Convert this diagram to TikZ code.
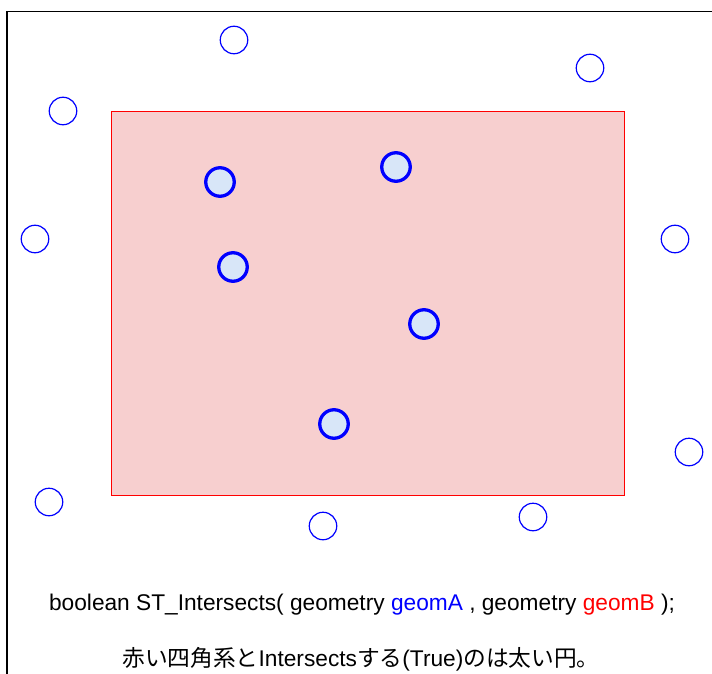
\documentclass[tikz,border=0pt]{standalone}
\usepackage{fontspec}
\setmainfont{Liberation Sans}
\newfontfamily\jpfont{Noto Sans CJK JP}
\usetikzlibrary{positioning}
\definecolor{geomblue}{RGB}{0,0,255}
\definecolor{geomred}{RGB}{255,0,0}
\definecolor{rectfill}{RGB}{247,207,207}
\definecolor{hitfill}{RGB}{216,230,248}

\begin{document}
\begin{tikzpicture}[
      x=1pt, y=-1pt,
      every node/.style={
        circle,
        draw=geomblue,
        line width=1.2pt,
        minimum size=27.5pt,
        inner sep=0pt
      },
      hit/.style={
        circle,
        draw=geomblue,
        fill=hitfill,
        line width=3.3pt,
        minimum size=28.5pt,
        inner sep=0pt
      },
      txt/.style={
        draw=none,
        rectangle,
        inner sep=0pt,
        font=\fontsize{22.7}{26}\selectfont
      }
    ]
      \useasboundingbox (0,0) rectangle (712,674);
      \draw[line width=1.5pt] (7,674) -- (7,11.5) -- (712,11.5);

      \node[
        rectangle,
        draw=geomred,
        fill=rectfill,
        line width=0.9pt,
        minimum width=513pt,
        minimum height=384pt
      ] (geomB) at (367.5,303) {};

      % circles outside
      \node (c1) at (234,40) {};
      \node (c2) at (590,68) {};
      \node (c3) at (63,111) {};
      \node (c4) at (35,239) {};
      \node (c5) at (675,239) {};
      \node (c6) at (689,452) {};
      \node (c7) at (49,502) {};
      \node (c8) at (323,526) {};
      \node (c9) at (533,517) {};

      % circles that intersect
      \node[hit] (h1) at (220,182) {};
      \node[hit] (h2) at (396,167) {};
      \node[hit] (h3) at (233,267) {};
      \node[hit] (h4) at (424,324) {};
      \node[hit] (h5) at (334,424) {};

      \node[txt] (sig) at (362,605)
        {boolean ST\_Intersects( geometry \textcolor{geomblue}{geomA} , geometry \textcolor{geomred}{geomB} );};
      \node[txt] (note) at (361,659)
        {{\jpfont 赤い四角系と}Intersects{\jpfont する}(True){\jpfont のは太い円。}};
    \end{tikzpicture}
\end{document}
